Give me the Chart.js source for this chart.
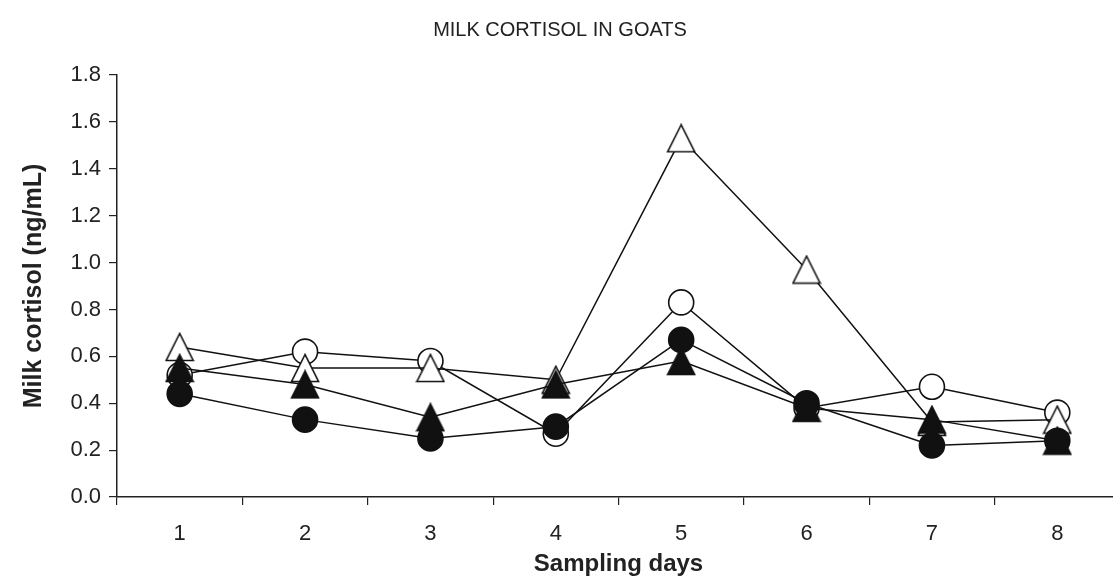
<!DOCTYPE html>
<html>
<head>
<meta charset="utf-8">
<title>Milk cortisol in goats</title>
<script src="https://cdn.jsdelivr.net/npm/chart.js@4.4.1/dist/chart.umd.min.js"></script>
<style>
  html, body { margin: 0; padding: 0; background: #fff; overflow: hidden; }
  #wrap { width: 1120px; height: 579px; }
</style>
</head>
<body>
<div id="wrap"><canvas id="cortisolChart"></canvas></div>
<script>
// Sampling days on the x axis
const days = ['1', '2', '3', '4', '5', '6', '7', '8'];

// Milk cortisol (ng/mL), one array per symbol in the figure
const filledCircle   = [0.44, 0.33, 0.25, 0.30, 0.67, 0.40, 0.22, 0.24];
const filledTriangle = [0.55, 0.48, 0.34, 0.48, 0.58, 0.38, 0.33, 0.24];
const openTriangle   = [0.64, 0.55, 0.55, 0.50, 1.53, 0.97, 0.32, 0.33];
const openCircle     = [0.52, 0.62, 0.58, 0.27, 0.83, 0.38, 0.47, 0.36];

// y axis ticks
const yTicks = [0.0, 0.2, 0.4, 0.6, 0.8, 1.0, 1.2, 1.4, 1.6, 1.8];

const FONT = 'Liberation Sans, Arial, sans-serif';

// triangle marker drawn on a small canvas so it sits centred on its point
function makeTriangle(fill) {
  const c = document.createElement('canvas');
  c.width = 30;
  c.height = 30;
  const g = c.getContext('2d');
  g.beginPath();
  g.moveTo(15, 1.5);
  g.lineTo(1.5, 28.5);
  g.lineTo(28.5, 28.5);
  g.closePath();
  g.fillStyle = fill;
  g.fill();
  g.lineWidth = 1.6;
  g.strokeStyle = '#111';
  g.stroke();
  return c;
}

function series(label, data, style, fill) {
  return {
    label: label,
    data: data,
    borderColor: '#111',
    borderWidth: 1.5,
    pointStyle: style,
    pointRadius: 12.5,
    pointBorderWidth: 1.6,
    pointBackgroundColor: fill,
    pointBorderColor: '#111',
    backgroundColor: fill,
    tension: 0,
    fill: false
  };
}

function renderChart() {
  const ctx = document.getElementById('cortisolChart').getContext('2d');

  // first dataset is painted last, so filled symbols end up on top
  new Chart(ctx, {
    type: 'line',
    data: {
      labels: days,
      datasets: [
        series('Filled circle', filledCircle, 'circle', '#111'),
        series('Filled triangle', filledTriangle, makeTriangle('#111'), '#111'),
        series('Open triangle', openTriangle, makeTriangle('#fff'), '#fff'),
        series('Open circle', openCircle, 'circle', '#fff')
      ]
    },
    options: {
      responsive: true,
      maintainAspectRatio: false,
      animation: false,
      layout: { padding: 0, autoPadding: false },
      plugins: {
        legend: { display: false },
        tooltip: { enabled: false },
        title: {
          display: true,
          text: 'MILK CORTISOL IN GOATS',
          color: '#222',
          font: { family: FONT, size: 20, weight: 'normal' },
          padding: { top: 18, bottom: 33 }
        }
      },
      scales: {
        x: {
          type: 'category',
          offset: true,
          border: { display: true, color: '#222', width: 1.5 },
          grid: { display: true, offset: true, drawOnChartArea: false, drawTicks: true, tickLength: 8, color: '#222', lineWidth: 1.2 },
          ticks: {
            color: '#222',
            padding: 16,
            font: { family: FONT, size: 22 }
          },
          title: {
            display: true,
            text: 'Sampling days',
            color: '#222',
            font: { family: FONT, size: 24, weight: 'bold' },
            padding: { top: 2, bottom: 0 }
          },
          afterFit: scale => {
            scale.height = 82;
          }
        },
        y: {
          min: 0,
          max: 1.8,
          border: { display: true, color: '#222', width: 1.5 },
          grid: { display: true, drawOnChartArea: false, drawTicks: true, tickLength: 8, color: '#222', lineWidth: 1.2 },
          afterBuildTicks: scale => { scale.ticks = yTicks.map(v => ({ value: v })); },
          ticks: {
            color: '#222',
            padding: 8,
            font: { family: FONT, size: 22 },
            callback: v => Number(v).toFixed(1)
          },
          title: {
            display: true,
            text: 'Milk cortisol (ng/mL)',
            color: '#222',
            font: { family: FONT, size: 25, weight: 'bold' },
            padding: { top: 19, bottom: 0 }
          },
          afterFit: scale => { scale.width = 117; }
        }
      }
    }
  });
}

document.addEventListener('DOMContentLoaded', () => {
  renderChart();
});
</script>
</body>
</html>
